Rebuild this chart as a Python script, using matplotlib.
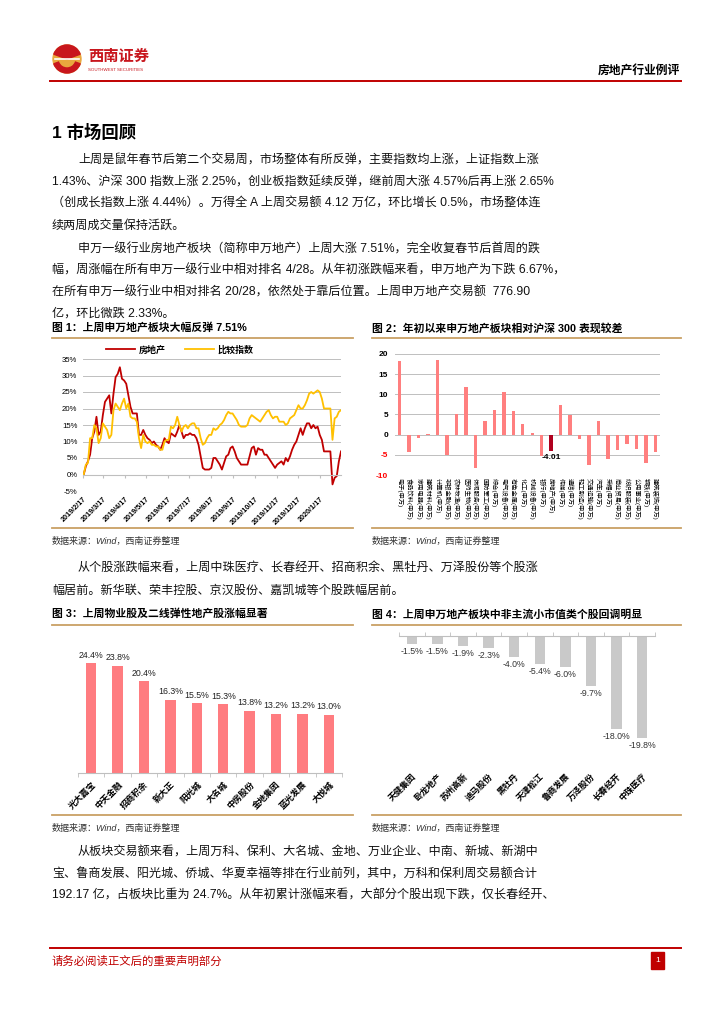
import numpy as np
import pandas as pd
import matplotlib
matplotlib.use("Agg")
import matplotlib.pyplot as plt
import matplotlib.dates as mdates
from matplotlib.patches import Circle, Wedge, Rectangle

plt.rcParams['font.family'] = ['Liberation Sans', 'Noto Sans CJK SC']

# ---- data -------------------------------------------------------------
# fig 1: cumulative return since 2019/2/18, sampled every 3 days
re_idx = [0, 2.5, 4, 6, 11, 13, 17.5, 12, 13, 18,
          22, 23, 24, 18.5, 24.5, 29.5, 30.5, 32.5, 29, 28.5,
          27.5, 24, 20.5, 18.5, 18.5, 18.5, 12, 12, 13.5, 12,
          11, 10.5, 9.5, 10, 9, 8.5, 7.5, 9, 11, 10,
          9.5, 12.5, 12, 11.5, 13, 15, 13, 11, 12, 12,
          12.5, 12, 12, 11, 9, 5.5, 2, 1.5, 1.5, 1.5,
          2, 5, 5, 4, 3, 1.5, 3.5, 5.5, 6, 8,
          8.5, 7, 5, 4, 3, 3, 3, 3, 5.5, 8,
          8.5, 6, 8, 7.5, 7.5, 6, 6, 5, 4, 3,
          2, 3, 3.5, 4, 3, 5, 4, 5.5, 7.5, 9,
          10, 12, 14, 12, 14, 15.5, 15.5, 14, 15, 14,
          14.5, 12, 10.5, 7, 7, 7, 7, -3, -1, -0.5,
          4, 7]
cmp_idx = [0, 3, 3.5, 11, 11, 15, 14, 9.5, 11, 15.5,
           14.5, 13.5, 11, 12, 19.5, 21.5, 20.5, 19.5, 21.5, 23,
           20, 21.5, 17.5, 17, 17, 16, 11, 8, 12, 10,
           9.5, 10, 9, 9, 8.5, 8.5, 7.5, 7.5, 10, 10.5,
           10.5, 14.5, 14, 15, 17.5, 15, 13, 14.5, 15, 14,
           15, 15.5, 15.5, 14, 14, 11, 9, 9.5, 11, 12,
           12, 14, 13.5, 14, 15, 15.5, 16.5, 18, 19, 18.5,
           18.5, 17.5, 16.5, 15, 14.5, 14.5, 14.5, 15, 17, 18,
           17.5, 17, 16.5, 16, 17, 18, 19, 19.5, 18, 17,
           17.5, 17.5, 16, 16, 16, 15, 15.5, 17, 17.5, 18,
           19.5, 21, 20, 20, 21, 22.5, 24.5, 25, 24.5, 25,
           25.5, 25, 23, 20, 20, 20, 20, 10.5, 17, 17.5,
           19, 19.5]
dates = pd.date_range('2019-02-18', periods=len(re_idx), freq='3D')
month_ticks = ['2019/2/17', '2019/3/17', '2019/4/17', '2019/5/17', '2019/6/17', '2019/7/17',
               '2019/8/17', '2019/9/17', '2019/10/17', '2019/11/17', '2019/12/17', '2020/1/17']

# fig 2: YTD performance relative to CSI 300
ind_names = ['电子(申万)', '食品饮料(申万)', '家用电器(申万)', '建筑材料(申万)',
             '计算机(申万)', '非银金融(申万)', '农林牧渔(申万)', '医药生物(申万)',
             '休闲服务(申万)', '国防军工(申万)', '综合(申万)', '电气设备(申万)',
             '有色金属(申万)', '化工(申万)', '机械设备(申万)', '银行(申万)',
             '房地产(申万)', '传媒(申万)', '通信(申万)', '轻工制造(申万)',
             '交通运输(申万)', '汽车(申万)', '采掘(申万)', '商业贸易(申万)',
             '纺织服装(申万)', '公用事业(申万)', '钢铁(申万)', '建筑装饰(申万)']
ind_vals = [18.3, -4.2, -0.8, 0.1, 18.4, -5.1, 5.0, 11.7, -8.3, 3.4,
            6.0, 10.5, 5.8, 2.7, 0.4, -5.3, -4.01, 7.4, 4.9, -1.1,
            -7.6, 3.3, -6.1, -3.8, -2.4, -3.6, -7.1, -4.3]

# fig 3: weekly gainers
up_names = ['光大嘉宝', '中天金融', '招商积余', '新大正', '阳光城',
            '大名城', '中房股份', '金地集团', '蓝光发展', '大悦城']
up_vals = [24.4, 23.8, 20.4, 16.3, 15.5, 15.3, 13.8, 13.2, 13.2, 13.0]

# fig 4: weekly losers
down_names = ['天健集团', '卧龙地产', '苏州高新', '迪马股份', '黑牡丹',
              '天津松江', '鲁商发展', '万泽股份', '长春经开', '中珠医疗']
down_vals = [-1.5, -1.5, -1.9, -2.3, -4.0, -5.4, -6.0, -9.7, -18.0, -19.8]

para1 = ['上周是鼠年春节后第二个交易周，市场整体有所反弹，主要指数均上涨，上证指数上涨',
         '1.43%、沪深 300 指数上涨 2.25%，创业板指数延续反弹，继前周大涨 4.57%后再上涨 2.65%',
         '（创成长指数上涨 4.44%）。万得全 A 上周交易额 4.12 万亿，环比增长 0.5%，市场整体连',
         '续两周成交量保持活跃。']
para2 = ['申万一级行业房地产板块（简称申万地产）上周大涨 7.51%，完全收复春节后首周的跌',
         '幅，周涨幅在所有申万一级行业中相对排名 4/28。从年初涨跌幅来看，申万地产为下跌 6.67%，',
         '在所有申万一级行业中相对排名 20/28，依然处于靠后位置。上周申万地产交易额  776.90',
         '亿，环比微跌 2.33%。']
para3 = ['从个股涨跌幅来看，上周中珠医疗、长春经开、招商积余、黑牡丹、万泽股份等个股涨',
         '幅居前。新华联、荣丰控股、京汉股份、嘉凯城等个股跌幅居前。']
para4 = ['从板块交易额来看，上周万科、保利、大名城、金地、万业企业、中南、新城、新湖中',
         '宝、鲁商发展、阳光城、侨城、华夏幸福等排在行业前列，其中，万科和保利周交易额合计',
         '192.17 亿，占板块比重为 24.7%。从年初累计涨幅来看，大部分个股出现下跌，仅长春经开、']

RED = '#C00000'
GOLD = '#C9A064'
GRID = '#BFBFBF'

W, H = 724, 1024
fig = plt.figure(figsize=(W / 100, H / 100), dpi=100)

# page layer in pixel coordinates (origin top-left)
bg = fig.add_axes([0, 0, 1, 1])
bg.set_xlim(0, W)
bg.set_ylim(H, 0)
bg.axis('off')


def add_ax(x0, y0, x1, y1):
    return fig.add_axes([x0 / W, 1 - y1 / H, (x1 - x0) / W, (y1 - y0) / H])


def body(lines, y0, step=21.5):
    for k, s in enumerate(lines):
        x = 78 if k == 0 else 52
        bg.text(x, y0 + k * step, s, fontsize=8.7, va='center', ha='left', color='#111111')


# header
bg.add_patch(Circle((67, 59), 14, color='#E9A83E'))
bg.add_patch(Wedge((67, 59), 14, 200, 340, color='#C8161D'))
bg.add_patch(Wedge((67, 59), 14, 20, 160, width=5, color='#C8161D'))
bg.plot([55, 79], [59, 59], color='white', lw=1.2)
bg.text(88, 57, '西南证券', fontsize=11, fontweight='bold', color='#C8161D', va='center')
bg.text(88, 70, 'SOUTHWEST SECURITIES', fontsize=3.2, color='#C8161D', va='center')
bg.text(680, 72, '房地产行业例评', fontsize=8.5, fontweight='bold', ha='right', va='center')
bg.plot([50, 681], [81, 81], color=RED, lw=1.4)

# section title and text
bg.text(52, 133, '1 市场回顾', fontsize=12.5, fontweight='bold', va='center')
body(para1, 161)
body(para2, 249)
body(para3, 569)
body(para4, 853)

# chart frames
for x0, x1 in [(52, 353), (372, 681)]:
    for y in [338, 528, 625, 815]:
        bg.plot([x0, x1], [y, y], color=GOLD, lw=1.3)
bg.text(52, 328, '图 1：上周申万地产板块大幅反弹 7.51%', fontsize=7.8, fontweight='bold', va='center')
bg.text(372, 328, '图 2：年初以来申万地产板块相对沪深 300 表现较差', fontsize=7.8, fontweight='bold', va='center')
bg.text(52, 614, '图 3：上周物业股及二线弹性地产股涨幅显著', fontsize=7.8, fontweight='bold', va='center')
bg.text(372, 614, '图 4：上周申万地产板块中非主流小市值类个股回调明显', fontsize=7.8, fontweight='bold', va='center')
for x, y in [(52, 541), (372, 541), (52, 828), (372, 828)]:
    bg.text(x, y, '数据来源：Wind，西南证券整理', fontsize=6.5, fontstyle='italic',
            color='#333333', va='center')

# footer
bg.plot([50, 681], [948, 948], color=RED, lw=1.4)
bg.text(52, 961, '请务必阅读正文后的重要声明部分', fontsize=8.2, color=RED, va='center')
bg.add_patch(Rectangle((651, 952), 13, 17, color=RED))
bg.text(657.5, 960.5, '1', fontsize=6, color='white', ha='center', va='center')

# ---- fig 1: line chart ----------------------------------------------
ax1 = add_ax(83, 359, 341, 491)
# spine position first: it resets the tick objects
for s in ['top', 'right', 'left']:
    ax1.spines[s].set_visible(False)
ax1.spines['bottom'].set_position(('data', 0))
ax1.spines['bottom'].set_color(GRID)
xd = mdates.date2num(dates.to_pydatetime())
ax1.plot(xd, re_idx, color=RED, lw=1.3, label='房地产')
ax1.plot(xd, cmp_idx, color='#FFC000', lw=1.3, label='比较指数')
ax1.set_ylim(-5, 35)
ax1.set_yticks(range(-5, 36, 5))
ax1.set_yticklabels([f'{v}%' for v in range(-5, 36, 5)])
xt = mdates.date2num(pd.to_datetime(month_ticks, format='%Y/%m/%d').to_pydatetime())
ax1.set_xlim(xt[0], xd[-1])
ax1.tick_params(axis='x', length=2.5, color=GRID, pad=13)
ax1.tick_params(axis='y', length=0, labelsize=5.6, pad=4)
ax1.set_xticks(xt)
ax1.set_xticklabels(month_ticks, rotation=45, ha='right', rotation_mode='anchor',
                    fontsize=5.2, fontweight='bold')
ax1.grid(axis='y', color=GRID, lw=0.7)
ax1.set_axisbelow(True)
ax1.legend(loc='center', bbox_to_anchor=(180 / W, 1 - 350 / H), bbox_transform=fig.transFigure,
           ncol=2, frameon=False, prop={'size': 6.5, 'weight': 'bold'},
           handlelength=3.2, columnspacing=2.2, handletextpad=0.4)

# ---- fig 2: industry bars -------------------------------------------
ax2 = add_ax(395, 354, 660, 475)
x2 = np.arange(len(ind_names))
c2 = ['#B0001E' if n == '房地产(申万)' else '#FF7F7F' for n in ind_names]
ax2.bar(x2, ind_vals, width=0.36, color=c2, zorder=3)
ax2.set_ylim(-10, 20)
ax2.set_xlim(-0.5, len(ind_names) - 0.5)
for s in ax2.spines.values():
    s.set_visible(False)
ax2.tick_params(length=0)
ax2.tick_params(axis='x', pad=2)
ax2.tick_params(axis='y', pad=5)
ax2.set_yticks(range(-10, 21, 5))
ax2.set_yticklabels([str(v) for v in range(-10, 21, 5)], fontsize=6, fontweight='bold')
for lab, v in zip(ax2.get_yticklabels(), range(-10, 21, 5)):
    if v < 0:
        lab.set_color('#FF0000')
ax2.set_xticks(x2)
ax2.set_xticklabels(ind_names, rotation=270, ha='center', va='top', fontsize=4.5)
ax2.grid(axis='y', color=GRID, lw=0.7)
ax2.set_axisbelow(True)
k = ind_names.index('房地产(申万)')
ax2.text(k, ind_vals[k] - 0.8, f'{ind_vals[k]:.2f}', ha='center', va='top',
         fontsize=6, fontweight='bold')

# ---- fig 3: gainers -------------------------------------------------
ax3 = add_ax(78, 638, 342, 773)
x3 = np.arange(len(up_names))
ax3.bar(x3, up_vals, width=0.4, color='#FF7C80')
for i, v in zip(x3, up_vals):
    ax3.text(i, v + 0.8, f'{v:.1f}%', ha='center', va='bottom', fontsize=6.3, color='#222222')
ax3.set_ylim(0, 30)
ax3.set_xlim(-0.5, len(up_names) - 0.5)
ax3.set_yticks([])
ax3.set_xticks(x3)
ax3.set_xticklabels(up_names, rotation=45, ha='right', rotation_mode='anchor',
                    fontsize=6.2, fontweight='bold')
ax3.set_xticks(np.arange(-0.5, len(up_names), 1), minor=True)
ax3.tick_params(axis='x', which='major', length=0, pad=5)
ax3.tick_params(axis='x', which='minor', length=3, color=GRID)
for s in ['top', 'right', 'left']:
    ax3.spines[s].set_visible(False)
ax3.spines['bottom'].set_color(GRID)

# ---- fig 4: losers --------------------------------------------------
ax4 = add_ax(399, 636, 655, 765)
x4 = np.arange(len(down_names))
ax4.bar(x4, down_vals, width=0.4, color='#C9C9C9')
for i, v in zip(x4, down_vals):
    ax4.text(i, v - 0.6, f'{v:.1f}%', ha='center', va='top', fontsize=6.3, color='#333333')
ax4.set_ylim(-25, 0)
ax4.set_xlim(-0.5, len(down_names) - 0.5)
ax4.set_yticks([])
ax4.set_xticks(x4)
ax4.set_xticklabels(down_names, rotation=45, ha='right', rotation_mode='anchor',
                    fontsize=6.2, fontweight='bold')
ax4.set_xticks(np.arange(-0.5, len(down_names), 1), minor=True)
ax4.tick_params(axis='x', which='major', length=0, pad=5)
ax4.tick_params(axis='x', which='minor', bottom=False, top=True, length=3, color=GRID)
for s in ['bottom', 'right', 'left']:
    ax4.spines[s].set_visible(False)
ax4.spines['top'].set_color(GRID)

fig.savefig('out.png', dpi=100)
